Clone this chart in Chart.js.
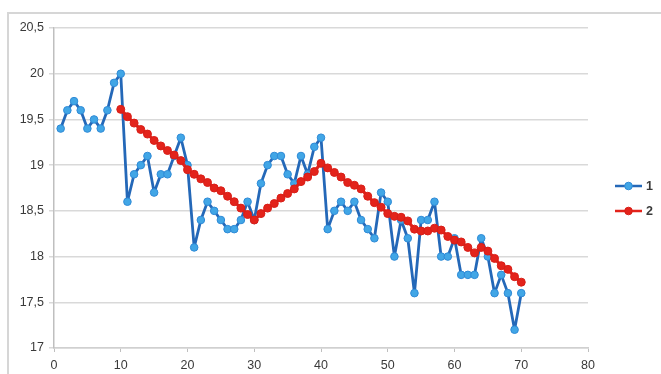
<!DOCTYPE html>
<html>
<head>
<meta charset="utf-8">
<script src="https://cdn.jsdelivr.net/npm/chart.js@4.4.1/dist/chart.umd.min.js"></script>
<style>
    html, body { margin: 0; padding: 0; background: #fff; }
    #wrap { position: relative; width: 661px; height: 374px; overflow: hidden; }
    #frame { position: absolute; left: 7px; top: 12px; width: 720px; height: 420px; border: 2px solid #d6d6d6; box-sizing: border-box; }
    #chart { position: absolute; left: 0; top: 0; }
</style>
</head>
<body>
<div id="wrap">
    <div id="frame"></div>
    <canvas id="chart" width="661" height="374"></canvas>
</div>
<script>
// series 1: raw values
const blueX = [1, 2, 3, 4, 5, 6, 7, 8, 9, 10, 11, 12, 13, 14, 15, 16, 17, 18, 19, 20,
    21, 22, 23, 24, 25, 26, 27, 28, 29, 30, 31, 32, 33, 34, 35, 36, 37, 38, 39, 40,
    41, 42, 43, 44, 45, 46, 47, 48, 49, 50, 51, 52, 53, 54, 55, 56, 57, 58, 59, 60,
    61, 62, 63, 64, 65, 66, 67, 68, 69, 70];
const blueY = [19.4, 19.6, 19.7, 19.6, 19.4, 19.5, 19.4, 19.6, 19.9, 20.0,
    18.6, 18.9, 19.0, 19.1, 18.7, 18.9, 18.9, 19.1, 19.3, 19.0,
    18.1, 18.4, 18.6, 18.5, 18.4, 18.3, 18.3, 18.4, 18.6, 18.4,
    18.8, 19.0, 19.1, 19.1, 18.9, 18.8, 19.1, 18.9, 19.2, 19.3,
    18.3, 18.5, 18.6, 18.5, 18.6, 18.4, 18.3, 18.2, 18.7, 18.6,
    18.0, 18.4, 18.2, 17.6, 18.4, 18.4, 18.6, 18.0, 18.0, 18.2,
    17.8, 17.8, 17.8, 18.2, 18.0, 17.6, 17.8, 17.6, 17.2, 17.6];

// series 2: smoothed line, starts at x = 10
const redX = [10, 11, 12, 13, 14, 15, 16, 17, 18, 19, 20,
    21, 22, 23, 24, 25, 26, 27, 28, 29, 30, 31, 32, 33, 34, 35, 36, 37, 38, 39, 40,
    41, 42, 43, 44, 45, 46, 47, 48, 49, 50, 51, 52, 53, 54, 55, 56, 57, 58, 59, 60,
    61, 62, 63, 64, 65, 66, 67, 68, 69, 70];
const redY = [19.61, 19.53, 19.46, 19.39, 19.34, 19.27, 19.21, 19.16, 19.11, 19.05, 18.95,
    18.90, 18.85, 18.81, 18.75, 18.72, 18.66, 18.60, 18.53, 18.46, 18.40,
    18.47, 18.53, 18.58, 18.64, 18.69, 18.74, 18.82, 18.87, 18.93, 19.02,
    18.97, 18.92, 18.87, 18.81, 18.78, 18.74, 18.66, 18.59, 18.54, 18.47,
    18.44, 18.43, 18.39, 18.30, 18.28, 18.28, 18.31, 18.29, 18.22, 18.18,
    18.16, 18.10, 18.04, 18.10, 18.06, 17.98, 17.90, 17.86, 17.78, 17.72];

const seriesNames = ["1", "2"];
const xTicks = { min: 0, max: 80, step: 10 };
const yTicks = { min: 17, max: 20.5, step: 0.5 };

const labelColor = "#3a3a3a";
const labelFont = { family: "'Liberation Sans', Arial, sans-serif", size: 12.5 };

function toPoints(xs, ys) {
    return xs.map((x, i) => ({ x: x, y: ys[i] }));
}

// legend drawn on the right as line + marker, like the original
const sideLegend = {
    id: "sideLegend",
    afterDraw(chart) {
        const ctx = chart.ctx;
        const left = 615;
        const top = 186;
        const gap = 25;
        chart.data.datasets.forEach((ds, i) => {
            const y = top + i * gap;
            ctx.save();
            ctx.strokeStyle = ds.borderColor;
            ctx.lineWidth = 2.5;
            ctx.beginPath();
            ctx.moveTo(left, y);
            ctx.lineTo(left + 27, y);
            ctx.stroke();
            ctx.fillStyle = ds.pointBackgroundColor;
            ctx.strokeStyle = ds.pointBorderColor;
            ctx.lineWidth = 1;
            ctx.beginPath();
            ctx.arc(left + 13.5, y, 3.8, 0, Math.PI * 2);
            ctx.fill();
            ctx.stroke();
            ctx.fillStyle = labelColor;
            ctx.font = "bold 12.5px 'Liberation Sans', Arial, sans-serif";
            ctx.textAlign = "left";
            ctx.textBaseline = "middle";
            ctx.fillText(ds.label, left + 31, y + 1);
            ctx.restore();
        });
    }
};

const ctx = document.getElementById("chart").getContext("2d");

new Chart(ctx, {
    type: "line",
    data: {
        datasets: [{
            label: seriesNames[0],
            data: toPoints(blueX, blueY),
            borderColor: "#2468b8",
            borderWidth: 2.8,
            borderJoinStyle: "round",
            pointRadius: 3.8,
            pointBackgroundColor: "#41a6e6",
            pointBorderColor: "#2f8ad6",
            pointBorderWidth: 1,
            tension: 0,
            order: 2,
        }, {
            label: seriesNames[1],
            data: toPoints(redX, redY),
            borderColor: "#e3231b",
            borderWidth: 3.2,
            borderJoinStyle: "round",
            pointRadius: 4,
            pointBackgroundColor: "#e3231b",
            pointBorderColor: "#d81e17",
            pointBorderWidth: 1,
            tension: 0,
            order: 1,
        }]
    },
    options: {
        responsive: false,
        animation: false,
        devicePixelRatio: 1,
        layout: {
            padding: { left: 0, right: 73, top: 28, bottom: 0 },
        },
        plugins: {
            legend: { display: false },
            tooltip: { enabled: false },
        },
        scales: {
            x: {
                type: "linear",
                min: xTicks.min,
                max: xTicks.max,
                ticks: {
                    stepSize: xTicks.step,
                    color: labelColor,
                    font: labelFont,
                    padding: 6,
                    maxRotation: 0,
                },
                grid: {
                    drawOnChartArea: false,
                    drawTicks: true,
                    tickLength: 4,
                    color: "#bfbfbf",
                },
                border: { display: true, color: "#d0d0d0", width: 1.5 },
                afterFit: (scale) => { scale.height = 26; },
            },
            y: {
                min: yTicks.min,
                max: yTicks.max,
                ticks: {
                    stepSize: yTicks.step,
                    color: labelColor,
                    font: labelFont,
                    padding: 5,
                    callback: (value) => String(value).replace(".", ","),
                },
                grid: {
                    color: "#d9d9d9",
                    lineWidth: 1.5,
                    drawTicks: true,
                    tickLength: 5,
                },
                border: { display: true, color: "#bfbfbf", width: 1.5 },
                afterFit: (scale) => { scale.width = 54; },
            }
        }
    },
    plugins: [sideLegend],
});
</script>
</body>
</html>
